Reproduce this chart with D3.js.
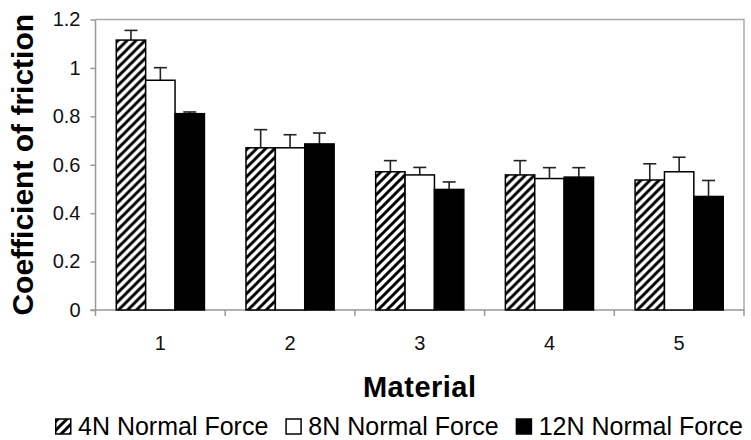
<!DOCTYPE html>
<html>
<head>
<meta charset="utf-8">
<script src="https://cdn.jsdelivr.net/npm/d3@7"></script>
<style>
  html, body { margin: 0; padding: 0; background: #fff; }
  svg { display: block; font-family: Arial, "Liberation Sans", sans-serif; }
</style>
</head>
<body>
<svg id="chart" width="751" height="440"></svg>
<script>
// ---- data ----
const categories = ["1", "2", "3", "4", "5"];
const seriesNames = ["4N Normal Force", "8N Normal Force", "12N Normal Force"];
const values4N  = [1.115, 0.670, 0.571, 0.558, 0.537];
const values8N  = [0.949, 0.670, 0.558, 0.543, 0.571];
const values12N = [0.811, 0.686, 0.498, 0.549, 0.469];
const err4N  = [0.040, 0.075, 0.046, 0.059, 0.067];
const err8N  = [0.052, 0.054, 0.031, 0.045, 0.060];
const err12N = [0.007, 0.045, 0.031, 0.039, 0.066];
const yTicks = [0, 0.2, 0.4, 0.6, 0.8, 1, 1.2];
const yTickLabels = ["0", "0.2", "0.4", "0.6", "0.8", "1", "1.2"];
const yTitle = "Coefficient of friction";
const xTitle = "Material";

const seriesValues = [values4N, values8N, values12N];
const seriesErrs = [err4N, err8N, err12N];

const svg = d3.select("#chart");
const defs = svg.append("defs");
const pat = defs.append("pattern")
  .attr("id", "hatch").attr("patternUnits", "userSpaceOnUse")
  .attr("width", 9).attr("height", 9);
pat.append("rect").attr("width", 9).attr("height", 9).attr("fill", "#fff");
pat.append("path")
  .attr("d", "M-2.25,2.25 L2.25,-2.25 M0,9 L9,0 M6.75,11.25 L11.25,6.75")
  .attr("stroke", "#000").attr("stroke-width", 3);

const fills = ["url(#hatch)", "#fff", "#000"];

const plot = { left: 95.5, right: 744, top: 19.5, bottom: 310 };

const x0 = d3.scaleBand().domain(categories).range([plot.left, plot.right]).padding(0);
const x1 = d3.scaleBand().domain(d3.range(seriesNames.length))
  .range([0, x0.bandwidth()]).paddingInner(0).paddingOuter(0.707);
const y = d3.scaleLinear().domain([0, 1.2]).range([plot.bottom, plot.top]);

const axisColor = "#999";

// plot border (top & right)
svg.append("path")
  .attr("d", `M${plot.left},${plot.top} H${plot.right} V${plot.bottom}`)
  .attr("fill", "none").attr("stroke", "#aaa").attr("stroke-width", 1.5);

// y axis
const yAxis = d3.axisLeft(y).tickValues(yTicks)
  .tickFormat((d, i) => yTickLabels[i]).tickSize(5).tickPadding(10);
const gy = svg.append("g").attr("transform", `translate(${plot.left},0)`).call(yAxis);
gy.select(".domain").attr("stroke", axisColor).attr("stroke-width", 1.5)
  .attr("d", `M0,${plot.bottom}V${plot.top}`);
gy.selectAll(".tick line").attr("stroke", axisColor).attr("stroke-width", 1.5);
gy.selectAll(".tick text").attr("font-size", 20).attr("fill", "#111")
  .attr("font-family", "Arial, 'Liberation Sans', sans-serif");

// x axis (ticks at category boundaries)
const gx = svg.append("g").attr("transform", `translate(0,${plot.bottom})`);
gx.append("line").attr("x1", plot.left - 5).attr("x2", plot.right)
  .attr("stroke", axisColor).attr("stroke-width", 1.5);
const boundaries = categories.map(c => x0(c)).concat([x0(categories[categories.length - 1]) + x0.bandwidth()]);
gx.selectAll("line.b").data(boundaries).join("line").attr("class", "b")
  .attr("x1", d => d).attr("x2", d => d).attr("y1", 0).attr("y2", 6)
  .attr("stroke", axisColor).attr("stroke-width", 1.5);
gx.selectAll("text").data(categories).join("text")
  .attr("x", d => x0(d) + x0.bandwidth() / 2).attr("y", 40)
  .attr("text-anchor", "middle").attr("font-size", 20).attr("fill", "#111")
  .text(d => d);

// bars
const groups = svg.append("g").selectAll("g").data(categories).join("g")
  .attr("transform", d => `translate(${x0(d)},0)`);
groups.each(function (cat, ci) {
  const g = d3.select(this);
  seriesNames.forEach((s, si) => {
    const v = seriesValues[si][ci];
    const e = seriesErrs[si][ci];
    const bx = x1(si), bw = x1.bandwidth();
    // error bar (upper)
    g.append("line").attr("x1", bx + bw / 2).attr("x2", bx + bw / 2)
      .attr("y1", y(v)).attr("y2", y(v + e)).attr("stroke", "#222").attr("stroke-width", 1.6);
    g.append("line").attr("x1", bx + bw / 2 - 6.5).attr("x2", bx + bw / 2 + 6.5)
      .attr("y1", y(v + e)).attr("y2", y(v + e)).attr("stroke", "#222").attr("stroke-width", 1.6);
    g.append("rect").attr("x", bx).attr("y", y(v))
      .attr("width", bw).attr("height", y(0) - y(v))
      .attr("fill", fills[si]).attr("stroke", "#000").attr("stroke-width", 1.5);
  });
});

// axis titles
svg.append("text").attr("transform", `translate(33,${(plot.top + plot.bottom) / 2}) rotate(-90)`)
  .attr("text-anchor", "middle").attr("font-size", 30).attr("font-weight", "bold")
  .attr("fill", "#000").text(yTitle);
svg.append("text").attr("x", (plot.left + plot.right) / 2).attr("y", 397)
  .attr("text-anchor", "middle").attr("font-size", 29).attr("font-weight", "bold")
  .attr("letter-spacing", 0.5).attr("fill", "#000").text(xTitle);

// legend
const legend = svg.append("g");
let lx = 55;
seriesNames.forEach((s, si) => {
  legend.append("rect").attr("x", lx + 0.75).attr("y", 419).attr("width", 15).attr("height", 15)
    .attr("fill", fills[si]).attr("stroke", "#000").attr("stroke-width", 1.5);
  const t = legend.append("text").attr("x", lx + 23).attr("y", 435)
    .attr("font-size", 25).attr("fill", "#000").text(s);
  lx = lx + 23 + t.node().getComputedTextLength() + 17;
});
</script>
</body>
</html>
